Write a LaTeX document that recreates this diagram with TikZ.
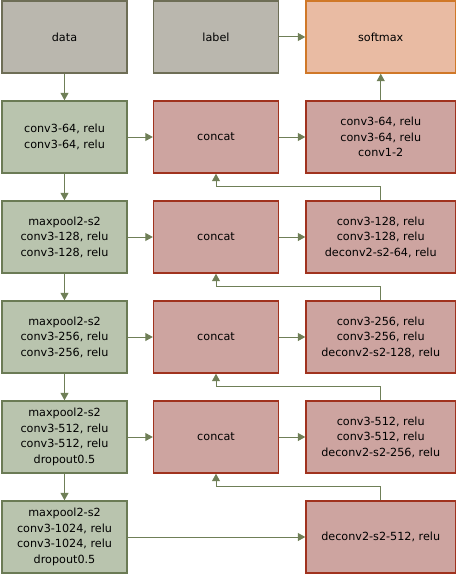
\documentclass[tikz,border=0pt]{standalone}
\usepackage{fontspec}
\setmainfont{DejaVu Sans}
\usetikzlibrary{arrows.meta}
\definecolor{grayfill}{RGB}{186,183,174}
\definecolor{grayline}{RGB}{110,110,86}
\definecolor{greenfill}{RGB}{185,196,174}
\definecolor{greenline}{RGB}{107,123,85}
\definecolor{redfill}{RGB}{205,164,160}
\definecolor{redline}{RGB}{160,50,30}
\definecolor{orfill}{RGB}{233,187,163}
\definecolor{orline}{RGB}{208,120,40}
\definecolor{arr}{RGB}{111,127,87}
\begin{document}
\begin{tikzpicture}[x=1pt,y=-1pt,
  box/.style={draw, line width=1.4pt, minimum height=72pt, align=center, inner sep=0pt,
    font=\fontsize{11.2}{15.6}\selectfont},
  graybox/.style={box, fill=grayfill, draw=grayline, minimum width=125pt},
  greenbox/.style={box, fill=greenfill, draw=greenline, minimum width=125pt},
  catbox/.style={box, fill=redfill, draw=redline, minimum width=125pt},
  rbox/.style={box, fill=redfill, draw=redline, minimum width=149.5pt},
  smbox/.style={box, fill=orfill, draw=orline, minimum width=149.5pt},
  conn/.style={draw=arr, line width=1pt, -{Triangle[length=7.5pt,width=8pt]}}]
\useasboundingbox (0,0) rectangle (457,575);
% row 1
\node[graybox] (data) at (64.5,37) {data};
\node[graybox] (label) at (216,37) {label};
\node[smbox] (soft) at (380.75,37) {softmax};
% left column
\node[greenbox] (c1) at (64.5,137) {conv3-64, relu\\conv3-64, relu};
\node[greenbox] (c2) at (64.5,237) {maxpool2-s2\\conv3-128, relu\\conv3-128, relu};
\node[greenbox] (c3) at (64.5,337) {maxpool2-s2\\conv3-256, relu\\conv3-256, relu};
\node[greenbox] (c4) at (64.5,437) {maxpool2-s2\\conv3-512, relu\\conv3-512, relu\\dropout0.5};
\node[greenbox] (c5) at (64.5,537) {maxpool2-s2\\conv3-1024, relu\\conv3-1024, relu\\dropout0.5};
% middle column
\node[catbox] (k1) at (216,137) {concat};
\node[catbox] (k2) at (216,237) {concat};
\node[catbox] (k3) at (216,337) {concat};
\node[catbox] (k4) at (216,437) {concat};
% right column
\node[rbox] (r1) at (380.75,137) {conv3-64, relu\\conv3-64, relu\\conv1-2};
\node[rbox] (r2) at (380.75,237) {conv3-128, relu\\conv3-128, relu\\deconv2-s2-64, relu};
\node[rbox] (r3) at (380.75,337) {conv3-256, relu\\conv3-256, relu\\deconv2-s2-128, relu};
\node[rbox] (r4) at (380.75,437) {conv3-512, relu\\conv3-512, relu\\deconv2-s2-256, relu};
\node[rbox] (r5) at (380.75,537) {deconv2-s2-512, relu};
% connectors
\draw[conn] (label) -- (soft);
\draw[conn] (r1) -- (soft);
\draw[conn] (data) -- (c1);
\draw[conn] (c1) -- (c2);
\draw[conn] (c2) -- (c3);
\draw[conn] (c3) -- (c4);
\draw[conn] (c4) -- (c5);
\draw[conn] (c1) -- (k1);
\draw[conn] (c2) -- (k2);
\draw[conn] (c3) -- (k3);
\draw[conn] (c4) -- (k4);
\draw[conn] (k1) -- (r1);
\draw[conn] (k2) -- (r2);
\draw[conn] (k3) -- (r3);
\draw[conn] (k4) -- (r4);
\draw[conn] (c5) -- (r5);
\draw[conn] (r2.north) -- ++(0,-14) -| (k1.south);
\draw[conn] (r3.north) -- ++(0,-14) -| (k2.south);
\draw[conn] (r4.north) -- ++(0,-14) -| (k3.south);
\draw[conn] (r5.north) -- ++(0,-14) -| (k4.south);
\end{tikzpicture}
\end{document}
